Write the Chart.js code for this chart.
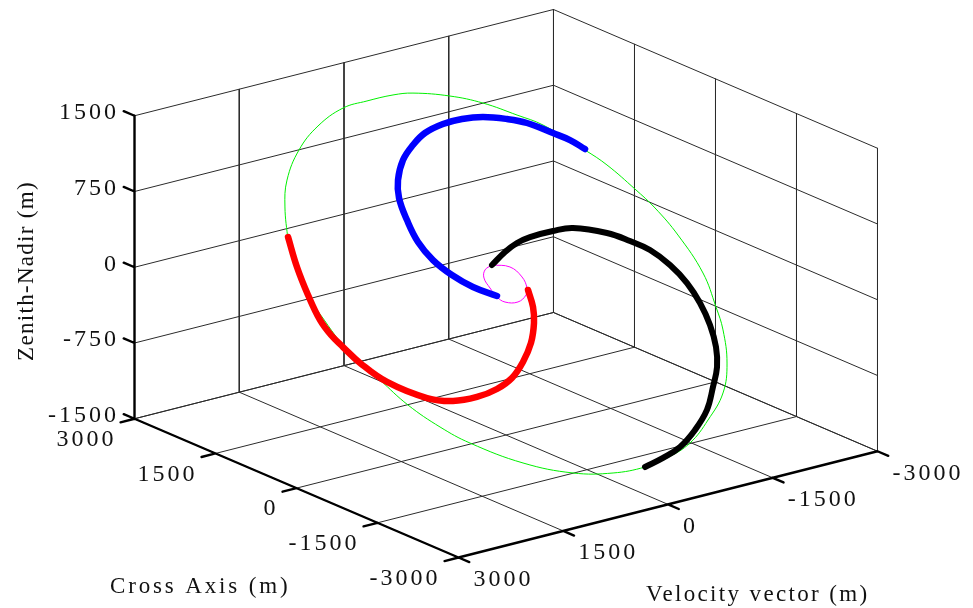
<!DOCTYPE html>
<html>
<head>
<meta charset="utf-8">
<style>
  html, body { margin: 0; padding: 0; background: #fff; }
  #orbitChart { display: block; }
</style>
<script src="https://cdn.jsdelivr.net/npm/chart.js@4"></script>
</head>
<body>
<canvas id="orbitChart" width="973" height="608"></canvas>
<script>
// tick values, metres
const velocityTicks = [3000, 1500, 0, -1500, -3000];
const crossTicks = [3000, 1500, 0, -1500, -3000];
const zenithTicks = [1500, 750, 0, -750, -1500];

// free orbit (green)
const orbitVelocity = [2491, 2318, 2120, 1776, 1381, 948, 599, 230, -36, -487, -861, -1217, -1483, -1856, -2040, -2242, -2375, -2494, -2569, -2517, -2459, -2299, -2056, -1693, -1317, -930, -593, -148, 360, 931, 1477, 1755, 2021, 2217, 2444, 2570, 2614, 2491];
const orbitCross = [817, 1096, 1314, 1537, 1696, 1792, 1800, 1795, 1769, 1667, 1540, 1369, 1232, 937, 768, 511, 312, 40, -326, -634, -839, -1120, -1360, -1552, -1704, -1780, -1808, -1791, -1707, -1519, -1243, -1048, -799, -533, -216, 178, 306, 817];
const orbitZenith = [680, 913, 1095, 1281, 1413, 1493, 1500, 1496, 1474, 1389, 1283, 1141, 1027, 781, 640, 425, 260, 33, -272, -529, -699, -934, -1133, -1293, -1420, -1483, -1507, -1492, -1422, -1266, -1036, -873, -666, -444, -180, 148, 255, 680];

// inner loop (magenta)
const loopVelocity = [60, -156, -245, -238, -181, -34, 131, 201, 232, 244, 180, 60];
const loopCross = [182, 128, 20, -81, -137, -178, -151, -93, -4, 92, 156, 182];
const loopZenith = [152, 107, 17, -68, -114, -148, -126, -77, -3, 76, 130, 152];

// blue arc
const blueVelocity = [-1863, -1730, -1559, -1292, -1064, -772, -493, -219, 67, 296, 519, 710, 812, 852, 852, 777, 632, 442, 194];
const blueCross = [946, 1052, 1145, 1282, 1357, 1424, 1452, 1450, 1414, 1340, 1236, 1082, 931, 732, 528, 347, 184, 40, -84];
const blueZenith = [788, 876, 954, 1069, 1131, 1187, 1210, 1209, 1178, 1116, 1030, 901, 776, 610, 440, 289, 153, 34, -70];

// black arc
const blackVelocity = [60, -189, -399, -602, -932, -1206, -1605, -1846, -2043, -2201, -2302, -2339, -2326, -2261, -2146, -1967, -1744, -1464, -1165, -879, -593];
const blackCross = [182, 263, 312, 334, 335, 318, 206, 91, -25, -191, -376, -568, -770, -965, -1133, -1289, -1466, -1607, -1716, -1771, -1808];
const blackZenith = [152, 219, 260, 278, 280, 265, 171, 76, -21, -159, -313, -473, -642, -804, -944, -1074, -1222, -1339, -1430, -1476, -1507];

// red arc
const redVelocity = [2471, 2549, 2588, 2596, 2552, 2476, 2362, 2141, 1735, 1424, 1094, 789, 528, 286, 63, -103, -193, -238];
const redCross = [841, 575, 320, 88, -59, -183, -351, -565, -781, -860, -877, -853, -793, -684, -544, -385, -251, -100];
const redZenith = [701, 479, 267, 74, -49, -153, -292, -470, -651, -717, -731, -711, -661, -570, -453, -321, -209, -83];

const AXIS_MAX = 3000, Z_MAX = 1500, TICK_LEN = 200;
const serif = '"Liberation Serif", "Times New Roman", serif';

// fixed 3D view (az/el of the original figure), gives chart units
function project(v, c, z) {
    return {
        x: 506 - 0.06983 * v - 0.054 * c,
        y: 283.5 + 0.01771 * v - 0.023125 * c - 0.101 * z
    };
}

function track(vs, cs, zs) {
    return vs.map((v, i) => project(v, cs[i], zs[i]));
}

// polylines joined with a NaN point so the line breaks between them
function joinPaths(paths) {
    const out = [];
    paths.forEach(path => {
        path.forEach(p => out.push(project(p[0], p[1], p[2])));
        out.push({ x: NaN, y: NaN });
    });
    return out;
}

const gridPaths = [];
zenithTicks.forEach(z => {
    gridPaths.push([[AXIS_MAX, AXIS_MAX, z], [-AXIS_MAX, AXIS_MAX, z], [-AXIS_MAX, -AXIS_MAX, z]]);
});
velocityTicks.forEach(v => {
    gridPaths.push([[v, AXIS_MAX, Z_MAX], [v, AXIS_MAX, -Z_MAX], [v, -AXIS_MAX, -Z_MAX]]);
});
crossTicks.forEach(c => {
    gridPaths.push([[-AXIS_MAX, c, Z_MAX], [-AXIS_MAX, c, -Z_MAX], [AXIS_MAX, c, -Z_MAX]]);
});

const axisPaths = [
    [[AXIS_MAX, AXIS_MAX, Z_MAX], [AXIS_MAX, AXIS_MAX, -Z_MAX], [AXIS_MAX, -AXIS_MAX, -Z_MAX], [-AXIS_MAX, -AXIS_MAX, -Z_MAX]]
];
zenithTicks.forEach(z => {
    axisPaths.push([[AXIS_MAX, AXIS_MAX, z], [AXIS_MAX, AXIS_MAX + TICK_LEN, z]]);
});
crossTicks.forEach(c => {
    axisPaths.push([[AXIS_MAX, c, -Z_MAX], [AXIS_MAX + TICK_LEN, c, -Z_MAX]]);
});
velocityTicks.forEach(v => {
    axisPaths.push([[v, -AXIS_MAX, -Z_MAX], [v, -AXIS_MAX - TICK_LEN, -Z_MAX]]);
});

function lineSet(data, color, width, tension, order) {
    return {
        data: data,
        showLine: true,
        borderColor: color,
        borderWidth: width,
        borderCapStyle: "round",
        borderJoinStyle: "round",
        pointRadius: 0,
        tension: tension,
        spanGaps: false,
        order: order
    };
}

// tick labels and axis titles
const axisText = {
    id: "axisText",
    afterDraw(chart) {
        const ctx = chart.ctx;
        const px = chart.scales.x, py = chart.scales.y;
        const put = (text, x, y, align, font, spacing) => {
            ctx.font = font;
            ctx.letterSpacing = spacing;
            ctx.textAlign = align;
            ctx.textBaseline = "middle";
            ctx.fillStyle = "#111";
            ctx.fillText(text, x, y);
        };
        ctx.save();
        const tickFont = "24px " + serif;
        zenithTicks.forEach(z => {
            const p = project(AXIS_MAX, AXIS_MAX, z);
            put(String(z), 119, py.getPixelForValue(p.y) - 3, "right", tickFont, "3px");
        });
        crossTicks.forEach(c => {
            const p = project(AXIS_MAX, c, -Z_MAX);
            put(String(c), px.getPixelForValue(p.x) - 18, py.getPixelForValue(p.y) + 21, "right", tickFont, "3px");
        });
        velocityTicks.forEach(v => {
            const p = project(v, -AXIS_MAX, -Z_MAX);
            put(String(v), px.getPixelForValue(p.x) + 15, py.getPixelForValue(p.y) + 22, "left", tickFont, "3px");
        });
        put("Cross Axis (m)", 110, 587, "left", "23px " + serif, "2.85px");
        put("Velocity vector (m)", 646, 595, "left", "23px " + serif, "2.35px");
        ctx.translate(27, 271);
        ctx.rotate(-Math.PI / 2);
        put("Zenith-Nadir (m)", 0, 0, "center", "23px " + serif, "1.3px");
        ctx.restore();
    }
};

document.addEventListener("DOMContentLoaded", () => {
    const ctx = document.getElementById("orbitChart").getContext("2d");

    new Chart(ctx, {
        type: "scatter",
        data: {
            datasets: [
                lineSet(joinPaths(gridPaths), "#2b2b2b", 1, 0, 6),
                lineSet(joinPaths(axisPaths), "#000000", 2.4, 0, 5),
                lineSet(track(orbitVelocity, orbitCross, orbitZenith), "#00f000", 1, 0.4, 4),
                lineSet(track(loopVelocity, loopCross, loopZenith), "#ff00ff", 1, 0.4, 3),
                lineSet(track(blueVelocity, blueCross, blueZenith), "#0000ff", 6.5, 0.4, 2),
                lineSet(track(blackVelocity, blackCross, blackZenith), "#000000", 6, 0.4, 1),
                lineSet(track(redVelocity, redCross, redZenith), "#ff0000", 6.5, 0.4, 0)
            ]
        },
        options: {
            responsive: false,
            animation: false,
            layout: { padding: 0 },
            plugins: { legend: { display: false }, tooltip: { enabled: false } },
            scales: {
                x: { type: "linear", min: 0, max: 973, display: false },
                y: { type: "linear", min: 0, max: 608, reverse: true, display: false }
            }
        },
        plugins: [axisText]
    });
});
</script>
</body>
</html>
